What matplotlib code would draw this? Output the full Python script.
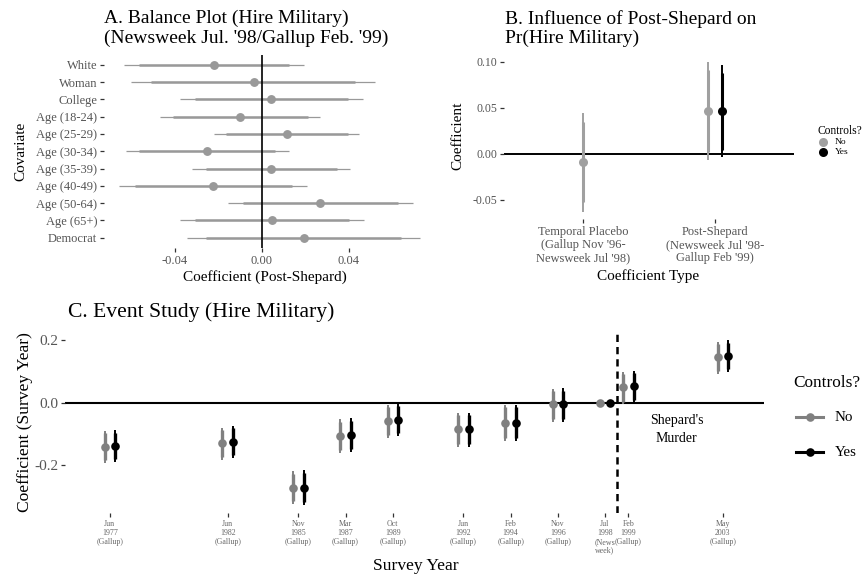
import matplotlib
matplotlib.use("Agg")
import matplotlib.pyplot as plt
from matplotlib.lines import Line2D
import numpy as np

plt.rcParams['font.family'] = ['Liberation Serif', 'DejaVu Serif']

# ---------------- data ----------------
# Panel A: balance of covariates across the Newsweek Jul '98 / Gallup Feb '99 split
covariates = ["White", "Woman", "College", "Age (18-24)", "Age (25-29)",
              "Age (30-34)", "Age (35-39)", "Age (40-49)", "Age (50-64)",
              "Age (65+)", "Democrat"]
bal_coef = [-0.0218, -0.0038, 0.0044, -0.0098, 0.0115, -0.0253, 0.0044, -0.0224, 0.0270, 0.0049, 0.0192]
bal_lo95 = [-0.0634, -0.0601, -0.0375, -0.0467, -0.0222, -0.0627, -0.0320, -0.0657, -0.0156, -0.0375, -0.0343]
bal_hi95 = [0.0196, 0.0521, 0.0464, 0.0270, 0.0449, 0.0124, 0.0406, 0.0207, 0.0697, 0.0472, 0.0728]
bal_lo90 = [-0.0566, -0.0509, -0.0306, -0.0409, -0.0167, -0.0566, -0.0259, -0.0585, -0.0087, -0.0306, -0.0256]
bal_hi90 = [0.0127, 0.0431, 0.0398, 0.0211, 0.0395, 0.0063, 0.0346, 0.0139, 0.0628, 0.0403, 0.0641]
bal_ticks = [-0.04, 0.00, 0.04]
bal_ticklabels = ["-0.04", "0.00", "0.04"]

# Panel B: placebo vs. post-Shepard coefficients
ctype_labels = ["Temporal Placebo\n(Gallup Nov '96-\nNewsweek Jul '98)",
                "Post-Shepard\n(Newsweek Jul '98-\nGallup Feb '99)"]
b_has_yes = [False, True]
b_no_coef = [-0.0094, 0.0465]
b_no_lo95 = [-0.0632, -0.0069]
b_no_hi95 = [0.0447, 0.0996]
b_no_lo90 = [-0.0523, 0.0022]
b_no_hi90 = [0.0349, 0.0912]
b_yes_coef = [0.0465]
b_yes_lo95 = [-0.0040]
b_yes_hi95 = [0.0966]
b_yes_lo90 = [0.0040]
b_yes_hi90 = [0.0882]
b_ticks = [-0.05, 0.00, 0.05, 0.10]
b_ticklabels = ["-0.05", "0.00", "0.05", "0.10"]

# Panel C: event study by survey year
survey_year = [1977, 1982, 1985, 1987, 1989, 1992, 1994, 1996, 1998, 1999, 2003]
survey_labels = ["Jun\n1977\n(Gallup)", "Jun\n1982\n(Gallup)", "Nov\n1985\n(Gallup)",
                 "Mar\n1987\n(Gallup)", "Oct\n1989\n(Gallup)", "Jun\n1992\n(Gallup)",
                 "Feb\n1994\n(Gallup)", "Nov\n1996\n(Gallup)", "Jul\n1998\n(News\nweek)",
                 "Feb\n1999\n(Gallup)", "May\n2003\n(Gallup)"]
c_no_coef = [-0.140, -0.130, -0.271, -0.105, -0.058, -0.084, -0.063, -0.005, 0.0, 0.050, 0.145]
c_no_lo95 = [-0.192, -0.182, -0.324, -0.161, -0.111, -0.140, -0.123, -0.061, 0.0, -0.005, 0.092]
c_no_hi95 = [-0.090, -0.079, -0.219, -0.053, -0.007, -0.032, -0.007, 0.045, 0.0, 0.100, 0.195]
c_no_lo90 = [-0.183, -0.173, -0.315, -0.152, -0.102, -0.131, -0.113, -0.052, 0.0, 0.004, 0.101]
c_no_hi90 = [-0.098, -0.087, -0.227, -0.061, -0.015, -0.040, -0.015, 0.037, 0.0, 0.092, 0.187]
c_yes_coef = [-0.137, -0.124, -0.271, -0.102, -0.056, -0.084, -0.063, -0.005, 0.0, 0.053, 0.151]
c_yes_lo95 = [-0.190, -0.177, -0.326, -0.158, -0.107, -0.140, -0.123, -0.060, 0.0, 0.002, 0.098]
c_yes_hi95 = [-0.087, -0.074, -0.216, -0.050, -0.003, -0.032, -0.007, 0.047, 0.0, 0.103, 0.200]
c_yes_lo90 = [-0.181, -0.168, -0.317, -0.149, -0.098, -0.131, -0.113, -0.051, 0.0, 0.010, 0.107]
c_yes_hi90 = [-0.095, -0.082, -0.225, -0.059, -0.011, -0.040, -0.015, 0.038, 0.0, 0.095, 0.192]
c_ticks = [-0.2, 0.0, 0.2]
c_ticklabels = ["-0.2", "0.0", "0.2"]
murder_year = 1998.5

# ---------------- styling ----------------
W, H = 864, 575
fig = plt.figure(figsize=(W / 100, H / 100), dpi=100)

def box(l, t, r, b):
    return [l / W, 1 - b / H, (r - l) / W, (b - t) / H]

def fx(x):
    return x / W

def fy(y):
    return 1 - y / H

TICK_TXT = '#555555'
TICK_CLR = '#333333'
GREY_A = '#999999'
GREY_B = '#a0a0a0'
GREY_C = '#808080'

def tufte(ax, labelsize):
    for s in ax.spines.values():
        s.set_visible(False)
    ax.tick_params(axis='both', length=3, width=0.9, color=TICK_CLR,
                   labelsize=labelsize, labelcolor=TICK_TXT, pad=2)
    ax.set_facecolor('none')

def padded(lo, hi, frac=0.05):
    span = hi - lo
    return lo - frac * span, hi + frac * span

# ---------------- Panel A ----------------
axA = fig.add_axes(box(104, 54.6, 435, 247.9))
tufte(axA, 9)
yA = np.arange(len(covariates))
axA.hlines(yA, bal_lo95, bal_hi95, color=GREY_A, lw=0.9, zorder=2)
axA.hlines(yA, bal_lo90, bal_hi90, color=GREY_A, lw=1.8, zorder=2)
axA.axvline(0, color='black', lw=1.2, zorder=3)
axA.plot(bal_coef, yA, 'o', color=GREY_A, ms=6.4, mec='none', zorder=4)
axA.set_ylim(len(covariates) - 0.4, -0.6)
axA.set_xlim(*padded(min(bal_lo95), max(bal_hi95)))
axA.set_yticks(yA)
axA.set_yticklabels(covariates)
axA.set_xticks(bal_ticks)
axA.set_xticklabels(bal_ticklabels)

fig.text(fx(104), fy(23.3), "A. Balance Plot (Hire Military)", fontsize=14, va='baseline', ha='left')
fig.text(fx(104), fy(43.3), "(Newsweek Jul. '98/Gallup Feb. '99)", fontsize=14, va='baseline', ha='left')
fig.text(fx(265), fy(281), "Coefficient (Post-Shepard)", fontsize=11, ha='center', va='baseline')
fig.text(fx(21), fy(151), "Covariate", fontsize=11, ha='center', va='center', rotation=90)

# ---------------- Panel B ----------------
axB = fig.add_axes(box(504, 54.8, 794, 219.2))
tufte(axB, 8.5)
posB = np.arange(len(ctype_labels))
dodge_b = 0.05
x_no = posB - np.where(b_has_yes, dodge_b, 0.0)
x_yes = posB[np.array(b_has_yes)] + dodge_b
axB.axhline(0, color='black', lw=1.4, zorder=1)
axB.vlines(x_no, b_no_lo95, b_no_hi95, color=GREY_B, lw=1.4, zorder=2)
axB.vlines(x_no, b_no_lo90, b_no_hi90, color=GREY_B, lw=2.2, zorder=2)
axB.plot(x_no, b_no_coef, 'o', color=GREY_B, ms=6.5, mec='none', zorder=3)
axB.vlines(x_yes, b_yes_lo95, b_yes_hi95, color='black', lw=1.4, zorder=2)
axB.vlines(x_yes, b_yes_lo90, b_yes_hi90, color='black', lw=2.2, zorder=2)
axB.plot(x_yes, b_yes_coef, 'o', color='black', ms=6.5, mec='none', zorder=3)
axB.set_xlim(-0.6, len(ctype_labels) - 0.4)
axB.set_ylim(*padded(min(b_no_lo95 + b_yes_lo95), max(b_no_hi95 + b_yes_hi95)))
axB.set_xticks(posB)
axB.set_xticklabels(ctype_labels, fontsize=9)
for t in axB.get_xticklabels():
    t.set_linespacing(1.1)
axB.set_yticks(b_ticks)
axB.set_yticklabels(b_ticklabels)

fig.text(fx(505), fy(24), "B. Influence of Post-Shepard on", fontsize=14, va='baseline', ha='left')
fig.text(fx(505), fy(43.3), "Pr(Hire Military)", fontsize=14, va='baseline', ha='left')
fig.text(fx(648), fy(280), "Coefficient Type", fontsize=11, ha='center', va='baseline')
fig.text(fx(458), fy(136), "Coefficient", fontsize=11, ha='center', va='center', rotation=90)

# legend for panel B
fig.text(fx(818), fy(131), "Controls?", fontsize=8.3, ha='left', va='center')
for yy, clr, lab in [(141.5, GREY_B, "No"), (152, 'black', "Yes")]:
    fig.add_artist(Line2D([fx(823)], [fy(yy)], marker='o', ms=6.5, color=clr,
                          mec='none', transform=fig.transFigure))
    fig.text(fx(835), fy(yy), lab, fontsize=6.8, ha='left', va='center')

# ---------------- Panel C ----------------
axC = fig.add_axes(box(65, 332, 764, 513))
tufte(axC, 11)
yrs = np.array(survey_year, dtype=float)
dodge_c = 0.22
axC.axhline(0, color='black', lw=1.5, zorder=1)
axC.axvline(murder_year, color='black', lw=1.8, ls=(0, (2.9, 2.0)), zorder=1)
for xs, clr, c, lo95, hi95, lo90, hi90 in [
        (yrs - dodge_c, GREY_C, c_no_coef, c_no_lo95, c_no_hi95, c_no_lo90, c_no_hi90),
        (yrs + dodge_c, 'black', c_yes_coef, c_yes_lo95, c_yes_hi95, c_yes_lo90, c_yes_hi90)]:
    axC.vlines(xs, lo95, hi95, color=clr, lw=1.4, zorder=2)
    axC.vlines(xs, lo90, hi90, color=clr, lw=2.4, zorder=2)
    axC.plot(xs, c, 'o', color=clr, ms=6.2, mec='none', zorder=3)
axC.text(2001.05, -0.085, "Shepard's\nMurder", fontsize=10, ha='center', va='center',
         linespacing=1.45)
axC.set_xlim(1975.1, 2004.75)
axC.set_ylim(*padded(min(c_no_lo95 + c_yes_lo95), max(c_no_hi95 + c_yes_hi95)))
axC.set_xticks(survey_year)
axC.set_xticklabels(survey_labels, fontsize=5.7, color='#666666')
for t in axC.get_xticklabels():
    t.set_linespacing(1.15)
    t.set_verticalalignment('top')
axC.set_yticks(c_ticks)
axC.set_yticklabels(c_ticklabels)

fig.text(fx(68), fy(317.3), "C. Event Study (Hire Military)", fontsize=15.6, va='baseline', ha='left')
fig.text(fx(416), fy(570.5), "Survey Year", fontsize=12.6, ha='center', va='baseline')
fig.text(fx(25), fy(422), "Coefficient (Survey Year)", fontsize=12.6, ha='center', va='center', rotation=90)

# legend for panel C
fig.text(fx(793), fy(382.7), "Controls?", fontsize=12.4, ha='left', va='center')
for yy, clr, lab in [(417.3, GREY_C, "No"), (452.3, 'black', "Yes")]:
    fig.add_artist(Line2D([fx(796), fx(823)], [fy(yy), fy(yy)], lw=2.2, color=clr,
                          transform=fig.transFigure))
    fig.add_artist(Line2D([fx(809.5)], [fy(yy)], marker='o', ms=6.2, color=clr,
                          mec='none', transform=fig.transFigure))
    fig.text(fx(835), fy(yy), lab, fontsize=10.8, ha='left', va='center')

fig.savefig("out.png", dpi=100, facecolor='white')
